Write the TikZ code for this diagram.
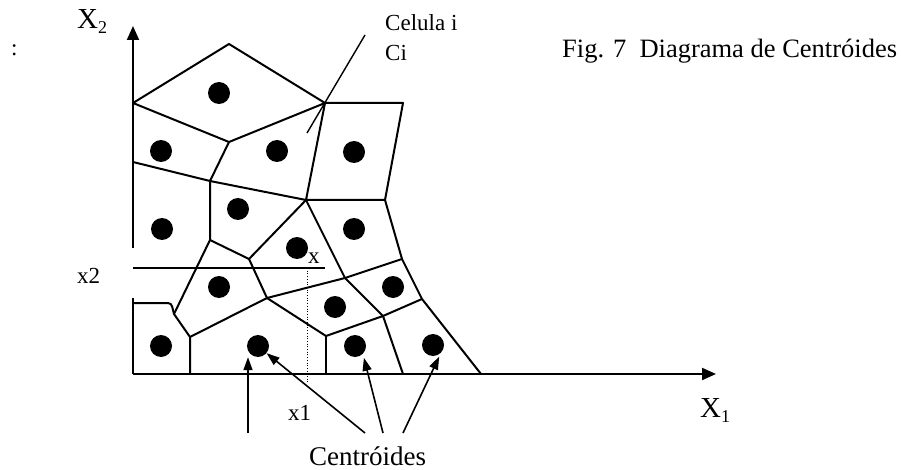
\documentclass[tikz,border=0pt]{standalone}
\usepackage{fontspec}
\setmainfont{Liberation Serif}
\usetikzlibrary{arrows.meta,calc}
\tikzset{
  edge/.style={line width=2pt, line join=round},
  axis/.style={line width=2pt, -{Triangle[length=14pt,width=12pt]}},
  ptr/.style={line width=1.6pt, -{Triangle[length=13pt,width=9pt]}},
  cent/.style={circle, fill=black, minimum size=22pt, inner sep=0pt},
  lbl/.style={font=\fontsize{23}{23}\selectfont, inner sep=0pt, anchor=base west},
  big/.style={font=\fontsize{29}{29}\selectfont, inner sep=0pt, anchor=base west},
}
\newcommand{\sub}[1]{\raisebox{-5pt}{\fontsize{18}{18}\selectfont #1}}

\begin{document}
\begin{tikzpicture}[x=1pt, y=-1pt]
  \useasboundingbox (0,0) rectangle (901,470);
  % cell vertices
  \coordinate (A) at (229,44);
  \coordinate (B) at (133,103);
  \coordinate (C) at (325,103);
  \coordinate (D) at (229,142);
  \coordinate (E) at (403,103);
  \coordinate (F) at (385,200);
  \coordinate (G) at (306,200);
  \coordinate (H) at (133,162);
  \coordinate (I) at (210,181);
  \coordinate (J) at (210,240);
  \coordinate (K) at (249,259);
  \coordinate (M) at (402,259);
  \coordinate (N) at (345,278);
  \coordinate (P) at (383,316);
  \coordinate (Q) at (422,299);
  \coordinate (R) at (326,336);
  \coordinate (S) at (267,298);
  \coordinate (T) at (174,314);
  \coordinate (U) at (190,337);
  % feet on the X1 axis
  \coordinate (O) at (133,374);
  \coordinate (U0) at (190,374);
  \coordinate (R0) at (326,374);
  \coordinate (P0) at (403,374);
  \coordinate (Z0) at (481,374);

  % axes
  \coordinate (yend) at (133,248);
  \coordinate (ytip) at (133,26);
  \coordinate (xtip) at (716,374);
  \draw[axis] (yend) -- (ytip);
  \draw[axis] (O) -- (xtip);

  % cells
  \draw[edge] (B) -- (A) -- (C) -- (D) -- cycle;
  \draw[edge] (C) -- (E) -- (F) -- (G) -- cycle;
  \draw[edge] (H) -- (I) -- (D);
  \draw[edge] (I) -- (G);
  \draw[edge] (I) -- (J) -- (K) -- (G);
  \draw[edge] (F) -- (M) -- (Q) -- (Z0);
  \draw[edge] (G) -- (N) -- (P) -- (P0);
  \draw[edge] (N) -- (M);
  \draw[edge] (P) -- (Q);
  \draw[edge] (K) -- (S) -- (N);
  \draw[edge] (S) -- (R) -- (P);
  \draw[edge] (R) -- (R0);
  \draw[edge] (J) -- (T) -- (U) -- (U0);
  \draw[edge] (U) -- (S);
  \draw[edge] (133,298) -- (O);
  \draw[edge] (133,303) -- (168,303) to[out=0,in=110] (T);

  % centroids
  \foreach \n/\x/\y in {1/219/93, 2/161/151, 3/277/151, 4/354/152,
      5/238/209, 6/162/229, 7/354/229, 8/297/248, 9/219/287,
      10/393/287, 11/335/307, 12/161/346, 13/258/346, 14/355/346, 15/433/345}
    \node[cent] (c\n) at (\x,\y) {};

  % point x
  \coordinate (x2a) at (133,268);
  \coordinate (x2b) at (325,268);
  \coordinate (x1a) at (307,268);
  \coordinate (x1b) at (307,384);
  \draw[line width=1.6pt] (x2a) -- (x2b);
  \draw[dotted, line width=0.7pt] (x1a) -- (x1b);

  % labels
  \node[lbl] (colon) at (11,56) {:};
  \node[big] (lx2) at (77,29) {X\sub{2}};
  \node[big] (lx1) at (700,417) {X\sub{1}};
  \node[lbl] (cel) at (385,31) {Celula i};
  \node[lbl] (ci) at (385,61) {Ci};
  \node[lbl, font=\fontsize{26.5}{26.5}\selectfont] (fig) at (562,58) {Fig. 7~~Diagrama de Centróides};
  \node[lbl] (lbx2) at (77,283) {x2};
  \node[lbl] (lbx) at (308,263) {x};
  \node[lbl] (lbx1) at (288,420) {x1};
  \node[lbl, font=\fontsize{27}{27}\selectfont] (centr) at (309,465) {Centróides};

  % pointers
  \coordinate (cp) at (365,35);
  \coordinate (cq) at (307,133);
  \draw[line width=1.4pt] (cp) -- (cq);
  \coordinate (s1) at (248,433);
  \coordinate (s2) at (365,433);
  \coordinate (s3) at (383,433);
  \coordinate (s4) at (403,433);
  \draw[ptr] (s1) -- (s1 |- c13.south);
  \draw[ptr] (s2) -- (c13.-40);
  \draw[ptr, shorten >=4pt] (s3) -- (c14.-45);
  \draw[ptr, shorten >=4pt] (s4) -- (c15.-45);
\end{tikzpicture}
\end{document}
